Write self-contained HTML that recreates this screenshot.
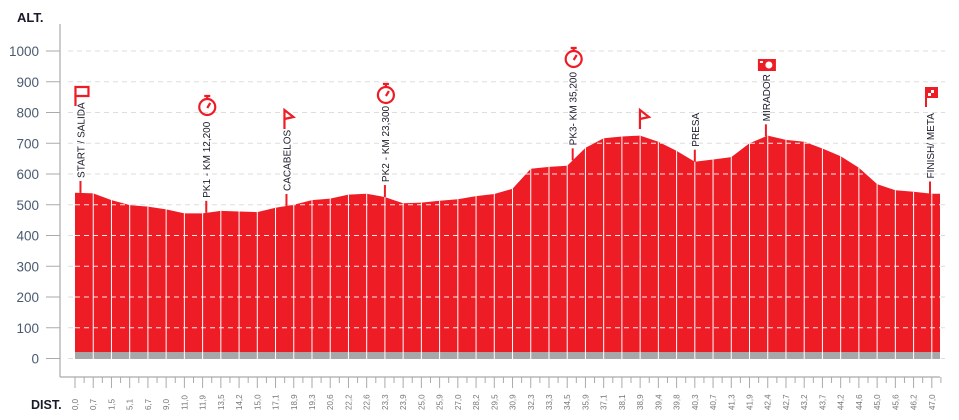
<!DOCTYPE html>
<html><head><meta charset="utf-8"><style>
html,body{margin:0;padding:0;background:#fff;}
svg{display:block;font-family:"Liberation Sans",sans-serif;}
</style></head><body>
<svg id="chart" width="959" height="420" viewBox="0 0 959 420">
<defs><clipPath id="areaClip"><path id="clipPath"></path></clipPath></defs>
<g id="grid"></g>
<g id="area"></g>
<g id="overlay" clip-path="url(#areaClip)"></g>
<g id="axes"></g>
<g id="marks"></g>
</svg>
<script>
const kmLabels=["0,0","0,7","1,5","5,1","6,7","9,0","11,0","11,9","13,5","14,2","15,0","17,1","18,9","19,3","20,6","22,2","22,6","23,3","23,9","25,0","25,9","27,0","28,2","29,5","30,9","32,3","33,3","34,5","35,9","37,1","38,1","38,9","39,4","39,8","40,3","40,7","41,3","41,9","42,4","42,7","43,2","43,7","44,2","44,6","45,0","45,6","46,2","47,0"];
const elevations=[539,537,515,499,494,485,472,472,480,478,476,490,500,515,520,533,536,525,505,507,513,518,528,535,552,617,623,627,685,716,722,725,705,675,640,647,655,700,725,711,705,683,658,620,567,547,542,536];
const yTicks=[0,100,200,300,400,500,600,700,800,900,1000];
const markerNames=["START / SALIDA","PK1 - KM 12,200","CACABELOS","PK2 - KM 23,300","PK3- KM 35,200","","PRESA","MIRADOR","FINISH/ META"];
const markerIdx=[0.3,7.2,11.6,17.0,27.3,31.1,34.0,37.9,46.9];
const markerIcons=["flag","timer","pennant","timer","timer","pennant","","camera","finish"];

const NS="http://www.w3.org/2000/svg";
const X0=75,STEP=18.23,Y0=358.5,PPU=0.3075;
const xS=i=>X0+i*STEP;
const yS=v=>Y0-v*PPU;
function mk(tag,attrs,parent){const e=document.createElementNS(NS,tag);for(const k in attrs)e.setAttribute(k,attrs[k]);parent.appendChild(e);return e;}
const grid=document.getElementById('grid'),area=document.getElementById('area'),overlay=document.getElementById('overlay'),axes=document.getElementById('axes'),marks=document.getElementById('marks');

yTicks.forEach(v=>{
  const y=yS(v);
  const g=mk('line',{x1:68,x2:945,y1:y,y2:y,stroke:'#ddd','stroke-dasharray':'5,4','stroke-width':1},grid);
  
  
  const t=mk('line',{x1:46,x2:60,y1:y,y2:y,stroke:'#aaa','stroke-width':1},axes);
  
  
  const l=mk('text',{x:39,y:y+5,'text-anchor':'end','font-size':13.5,fill:'#4a5a70'},axes);
  l.textContent=v;
  
  
});

const last=elevations.length-1;
let d=`M${X0},352 `;
elevations.forEach((v,i)=>{d+=`L${xS(i).toFixed(1)},${yS(v).toFixed(1)} `;});
d+=`L940,${yS(elevations[last]).toFixed(1)} L940,352 Z`;
document.getElementById('clipPath').setAttribute('d',d.replace(/352/g,'359'));
const p=mk('path',{d:d,fill:'#ee1c25'},area);


const band=mk('rect',{x:X0,y:352,width:865,height:7,fill:'#a7a7aa'},area);


yTicks.forEach(v=>{if(v===0)return;const y=yS(v);
  const g=mk('line',{x1:X0,x2:940,y1:y,y2:y,stroke:'#fde6e6','stroke-dasharray':'5,4','stroke-width':1},overlay);
  
  
});
for(let i=1;i<=last;i++){
  const wl=mk('line',{x1:xS(i),x2:xS(i),y1:0,y2:359,stroke:'#fff','stroke-width':1},overlay);
  
  
}

const ya=mk('line',{x1:60,x2:60,y1:24,y2:377,stroke:'#aaa','stroke-width':1.2},axes);


const xa=mk('line',{x1:60,x2:940,y1:377,y2:377,stroke:'#aaa','stroke-width':1.2},axes);


for(let k=0;k<=last*2+1;k++){
  const x=X0+k*STEP/2;if(x>941)break;
  const t=mk('line',{x1:x,x2:x,y1:377,y2:k%2?383:388,stroke:'#aaa','stroke-width':1},axes);
  
  
}
kmLabels.forEach((s,i)=>{
  const x=xS(i)+3;
  const t=mk('text',{x:x,y:410,transform:`rotate(-90 ${x} 410)`,'font-size':8,fill:'#777'},axes);
  t.textContent=s;
  
  
});
const at=mk('text',{x:17,y:22,'font-size':13,'font-weight':'bold',fill:'#1a1a2a'},axes);
at.textContent='ALT.';


const dt=mk('text',{x:31,y:409,'font-size':12.5,'font-weight':'bold',fill:'#1a1a2a'},axes);
dt.textContent='DIST.';



function elevAt(f){const i=Math.min(Math.floor(f),last-1),r=f-i;return elevations[i]*(1-r)+elevations[i+1]*r;}
function icon(type,x,y){
  const g=mk('g',{fill:'none',stroke:'#ee1c25','stroke-width':2.2},marks);
  
  
  if(type==='flag'){mk('path',{d:`M${x-6},${y+10} V${y-9} H${x+7} V${y} H${x-6}`},g);}
  else if(type==='pennant'){mk('path',{d:`M${x-3},${y+10} V${y-9} L${x+6},${y-2} L${x-3},${y}`},g);}
  else if(type==='timer'){mk('circle',{cx:x,cy:y+1,r:8},g);mk('path',{d:`M${x-3},${y-10} H${x+3} M${x},${y-9} V${y-7} M${x},${y+2} L${x+3},${y-3}`},g);}
  else if(type==='camera'){mk('rect',{x:x-9,y:y-6,width:18,height:12,fill:'#ee1c25',stroke:'none'},g);mk('circle',{cx:x+2,cy:y,r:3.5,fill:'#fff',stroke:'none'},g);mk('rect',{x:x-7,y:y-4,width:3,height:2,fill:'#fff',stroke:'none'},g);}
  else if(type==='finish'){mk('rect',{x:x-6,y:y-9,width:2,height:20,fill:'#ee1c25',stroke:'none'},g);mk('rect',{x:x-4,y:y-9,width:11,height:11,fill:'#ee1c25',stroke:'none'},g);mk('rect',{x:x,y:y-6,width:3,height:3,fill:'#fff',stroke:'none'},g);mk('rect',{x:x-3,y:y-3,width:3,height:3,fill:'#fff',stroke:'none'},g);}
}
const iconY=[96,106,119,94,58,119,0,65,96];
markerIdx.forEach((f,k)=>{
  const x=xS(f),y=yS(elevAt(f));
  const name=markerNames[k];
  const stemTop=name?y-12:y;
  if(name){
    const s=mk('line',{x1:x,x2:x,y1:y,y2:stemTop,stroke:'#ee1c25','stroke-width':2},marks);
    
    
    const t=mk('text',{x:x+4,y:stemTop-3,transform:`rotate(-90 ${x+4} ${stemTop-3})`,'font-size':10,fill:'#1a1a2a'},marks);
    t.textContent=name;
    
    
  }
  if(markerIcons[k])icon(markerIcons[k],x+1,iconY[k]);
});
</script>
</body></html>
